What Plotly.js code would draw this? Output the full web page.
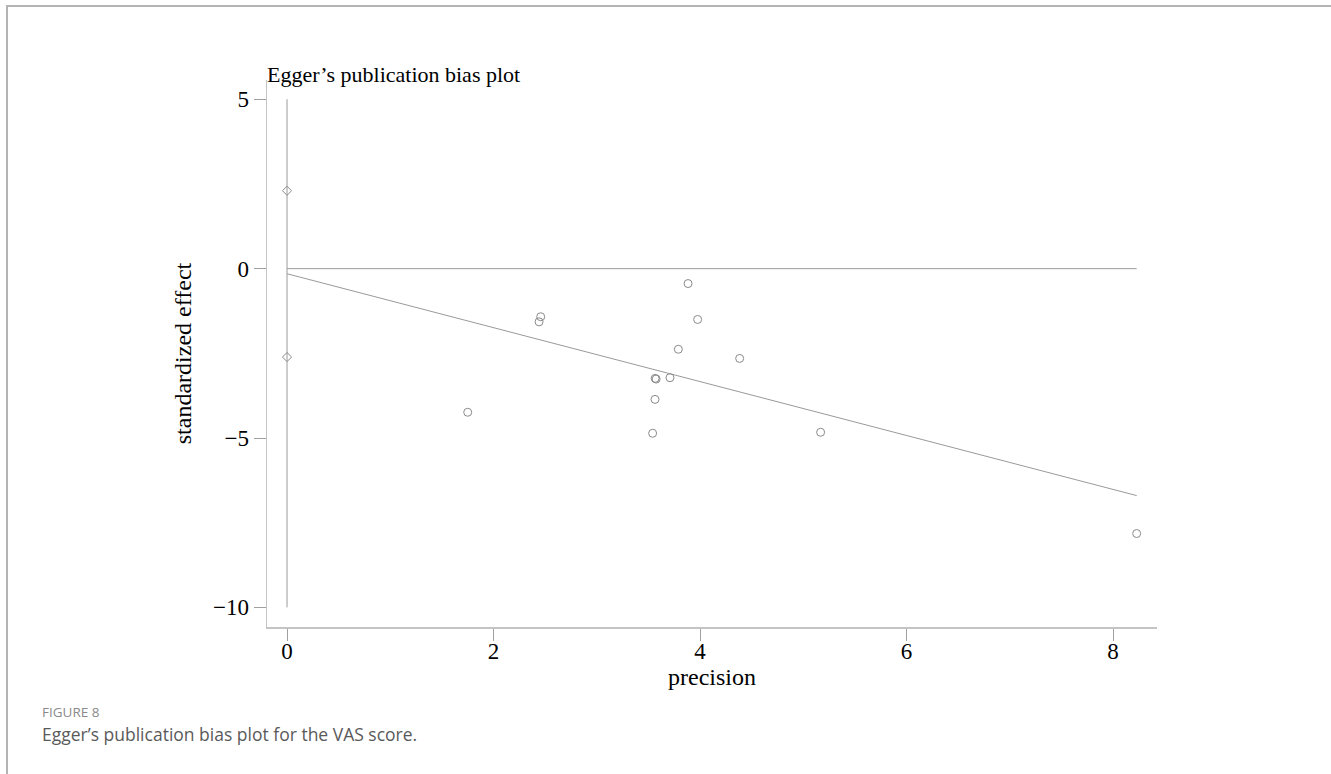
<!DOCTYPE html>
<html>
<head>
<meta charset="utf-8">
<script src="https://cdn.plot.ly/plotly-3.0.1.min.js"></script>
<style>
  html, body { margin: 0; padding: 0; background: #fff; }
  #wrap { position: relative; width: 1331px; height: 774px; overflow: hidden; }
  #chart { position: absolute; left: 0; top: 0; width: 1331px; height: 774px; }
  #frame { position: absolute; left: 6px; top: 5px; width: 1323px; height: 800px;
           border-top: 2px solid #b4b4b4; border-left: 2px solid #b4b4b4; border-right: 2px solid #b4b4b4;
           pointer-events: none; }
</style>
</head>
<body>
<div id="wrap">
  <div id="chart"></div>
  <div id="frame"></div>
</div>
<script>
// Study points: precision vs standardized effect
const precision = [3.884, 2.457, 2.441, 3.977, 3.790, 4.384, 3.565, 3.575, 3.709, 3.564, 1.750, 3.541, 5.168, 8.229];
const stdEffect = [-0.44, -1.42, -1.57, -1.50, -2.38, -2.65, -3.24, -3.26, -3.22, -3.86, -4.24, -4.86, -4.83, -7.82];

// Egger intercept confidence limits (diamonds at precision 0)
const ciPrecision = [0, 0];
const ciEffect = [2.30, -2.61];

// Fitted regression line endpoints
const fitPrecision = [0, 8.229];
const fitEffect = [-0.15, -6.70];

// Reference lines
const zeroLineX = [0, 8.229];
const zeroLineY = [0, 0];
const vertLineX = [0, 0];
const vertLineY = [5, -10];

const xTicks = [0, 2, 4, 6, 8];
const yTicks = [5, 0, -5, -10];

const titleText = "Egger’s publication bias plot";
const xTitle = "precision";
const yTitle = "standardized effect";
const captionHead = "FIGURE 8";
const captionBody = "Egger’s publication bias plot for the VAS score.";

const lineColor = "#9a9a9a";
const serif = "Liberation Serif, Times New Roman, serif";

const traces = [
  { x: vertLineX, y: vertLineY, mode: "lines", line: { color: lineColor, width: 1 }, hoverinfo: "skip" },
  { x: zeroLineX, y: zeroLineY, mode: "lines", line: { color: lineColor, width: 1 }, hoverinfo: "skip" },
  { x: fitPrecision, y: fitEffect, mode: "lines", line: { color: lineColor, width: 1 }, hoverinfo: "skip" },
  { x: ciPrecision, y: ciEffect, mode: "markers",
    marker: { symbol: "diamond-open", size: 7, color: "#8a8a8a", line: { width: 1 } } },
  { x: precision, y: stdEffect, mode: "markers",
    marker: { symbol: "circle-open", size: 8, color: "#8a8a8a", line: { width: 1 } } }
];

const W = 1331, H = 774;
const L = 267, R = 1157, T = 80, B = 627;
const pw = R - L, ph = B - T;
const px = v => (v - L) / pw;
const py = v => (B - v) / ph;

const layout = {
  width: W, height: H,
  margin: { l: L, r: W - R, t: T, b: H - B, pad: 0 },
  paper_bgcolor: "#ffffff",
  plot_bgcolor: "#ffffff",
  showlegend: false,
  font: { family: serif, color: "#000", size: 22 },
  title: {
    text: titleText, xref: "paper", x: 0, xanchor: "left",
    yref: "container", y: 1 - 74 / H, yanchor: "middle",
    font: { family: serif, size: 22, color: "#000" }
  },
  xaxis: {
    range: [-0.194, 8.426], tickvals: xTicks, ticktext: xTicks.map(String),
    showgrid: false, zeroline: false, showline: true, linecolor: "#c4c4c4", linewidth: 1.5,
    ticks: "outside", ticklen: 12, tickcolor: "#a0a0a0", tickwidth: 1,
    ticklabelstandoff: -9,
    tickfont: { family: serif, size: 23, color: "#000" },
    title: { text: xTitle, font: { family: serif, size: 24, color: "#000" }, standoff: 0 }
  },
  yaxis: {
    range: [-10.58, 5.57], tickvals: yTicks,
    showgrid: false, zeroline: false, showline: true, linecolor: "#c4c4c4", linewidth: 1.5,
    ticks: "outside", ticklen: 12, tickcolor: "#a0a0a0", tickwidth: 1,
    tickfont: { family: serif, size: 23, color: "#000" },
    title: { text: yTitle, font: { family: serif, size: 24, color: "#000" }, standoff: 14 }
  },
  annotations: [
    { text: captionHead, xref: "paper", yref: "paper", x: px(40), y: py(712),
      xanchor: "left", yanchor: "middle", showarrow: false,
      font: { family: "Open Sans, Noto Sans, sans-serif", size: 13.5, color: "#8a8a8a" } },
    { text: captionBody, xref: "paper", yref: "paper", x: px(40), y: py(734),
      xanchor: "left", yanchor: "middle", showarrow: false,
      font: { family: "Open Sans, Noto Sans, sans-serif", size: 17.5, color: "#5a5a5a" } }
  ]
};

Plotly.newPlot("chart", traces, layout, { displayModeBar: false, staticPlot: true });
</script>
</body>
</html>
